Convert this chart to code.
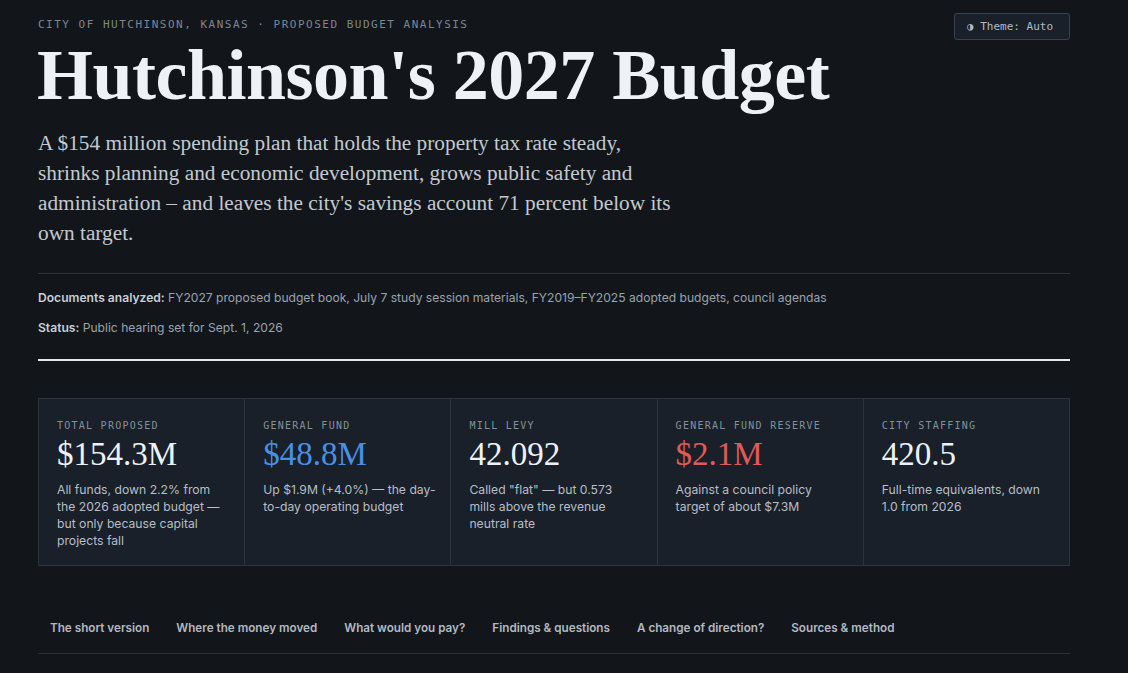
<!DOCTYPE html>
<html>
<head>
<meta charset="utf-8">
<script src="https://cdn.jsdelivr.net/npm/chart.js@4.4.1/dist/chart.umd.min.js"></script>
<style>
  html, body { margin: 0; padding: 0; }
  body {
    background: #12161b;
    width: 1128px; height: 673px; overflow: hidden;
    font-family: Inter, "Noto Sans", sans-serif;
    color: #e9edf1;
  }
  .wrap { position: relative; margin-left: 38px; width: 1032px; }
  .eyebrow {
    position: absolute; top: 18px; left: 0;
    font-family: "DejaVu Sans Mono", monospace; font-size: 11px;
    letter-spacing: 1.5px; color: #7d8691;
  }
  .theme {
    position: absolute; top: 13px; right: 0; height: 27px; box-sizing: border-box;
    padding: 0 16px 0 12px; border: 1px solid #39424d; border-radius: 3px; background: #19202a;
    font-family: "DejaVu Sans Mono", monospace; font-size: 11px; line-height: 25px; color: #b3bac3;
  }
  h1 {
    position: absolute; top: 35px; left: -1px; margin: 0; white-space: nowrap;
    font-family: "Liberation Serif", serif; font-weight: bold; font-size: 72px;
    line-height: 80px; letter-spacing: -0.5px; color: #eef2f6;
  }
  .lead {
    position: absolute; top: 128px; left: 0; width: 760px; margin: 0;
    font-family: "Liberation Serif", serif; font-size: 21.3px; line-height: 30px; color: #c3c9d0;
  }
  .rule1 { position: absolute; top: 273px; left: 0; width: 1032px; height: 1px; background: #2a3139; }
  .meta { position: absolute; left: 0; font-size: 12.1px; color: #9aa3ad; }
  .meta b { color: #c8ced5; font-weight: 600; }
  .rule2 { position: absolute; top: 359px; left: 0; width: 1032px; height: 2px; background: #e6eaee; }
  .cards {
    position: absolute; top: 398px; left: 0; width: 1032px; height: 168px;
    display: flex; border: 1px solid #2b3440; box-sizing: border-box; background: #19202a;
  }
  .card { flex: 1; border-right: 1px solid #2b3440; position: relative; }
  .card:last-child { border-right: none; }
  .card .lab {
    position: absolute; top: 21px; left: 18px; white-space: nowrap;
    font-family: "DejaVu Sans Mono", monospace; font-size: 10px; letter-spacing: 1.25px; color: #86909b;
  }
  .card .val {
    position: absolute; top: 35px; left: 18px;
    font-family: "Liberation Serif", serif; font-size: 33px; line-height: 40px;
  }
  .card .desc {
    position: absolute; top: 82px; left: 18px; width: 172.6px;
    font-size: 12.2px; line-height: 17px; color: #b7bec6;
  }
  .nav { position: absolute; top: 621px; left: 12px; display: flex; font-size: 11.7px; font-weight: 600; color: #b2b9c2; }
  .nav span { margin-right: 27px; }
  .rule3 { position: absolute; top: 653px; left: 0; width: 1032px; height: 1px; background: #2a3139; }
</style>
</head>
<body>
<div class="wrap" id="wrap">
  <div class="eyebrow">CITY OF HUTCHINSON, KANSAS · PROPOSED BUDGET ANALYSIS</div>
  <div class="theme">◑ Theme: Auto</div>
  <h1>Hutchinson's 2027 Budget</h1>
  <p class="lead">A $154 million spending plan that holds the property tax rate steady,<br>shrinks planning and economic development, grows public safety and<br>administration – and leaves the city's savings account 71 percent below its<br>own target.</p>
  <div class="rule1"></div>
  <div class="meta" style="top:290px"><b>Documents analyzed:</b> FY2027 proposed budget book, July 7 study session materials, FY2019–FY2025 adopted budgets, council agendas</div>
  <div class="meta" style="top:320px"><b>Status:</b> Public hearing set for Sept. 1, 2026</div>
  <div class="rule2"></div>
  <div class="cards" id="cards"></div>
  <div class="nav" id="nav"></div>
  <div class="rule3"></div>
</div>
<script>
const cardLabels = ['TOTAL PROPOSED', 'GENERAL FUND', 'MILL LEVY', 'GENERAL FUND RESERVE', 'CITY STAFFING'];
const cardValues = ['$154.3M', '$48.8M', '42.092', '$2.1M', '420.5'];
const cardNotes = [
  'All funds, down 2.2% from the 2026 adopted budget — but only because capital projects fall',
  'Up $1.9M (+4.0%) — the day-to-day operating budget',
  'Called "flat" — but 0.573 mills\u00a0above the revenue neutral rate',
  'Against a council policy target of about $7.3M',
  'Full-time equivalents, down 1.0 from 2026'
];
const cardTones = ['#eef2f6', '#4a90e2', '#eef2f6', '#e05a57', '#eef2f6'];
const navItems = ['The short version', 'Where the money moved', 'What would you pay?', 'Findings & questions', 'A change of direction?', 'Sources & method'];

const cards = document.getElementById('cards');
cardLabels.forEach((lab, i) => {
  const c = document.createElement('div');
  c.className = 'card';
  c.innerHTML = '<div class="lab">' + lab + '</div>' +
    '<div class="val" style="color:' + cardTones[i] + '">' + cardValues[i] + '</div>' +
    '<div class="desc">' + cardNotes[i] + '</div>';
  cards.appendChild(c);
});
const nav = document.getElementById('nav');
navItems.forEach(t => {
  const s = document.createElement('span');
  s.textContent = t;
  nav.appendChild(s);
});
</script>
</body>
</html>
